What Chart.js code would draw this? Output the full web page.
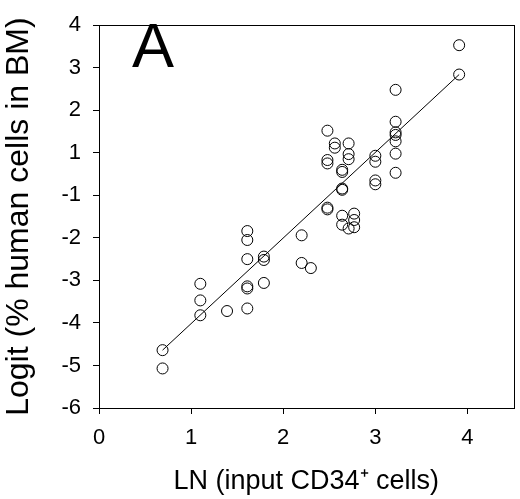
<!DOCTYPE html>
<html>
<head>
<meta charset="utf-8">
<script src="https://cdn.jsdelivr.net/npm/chart.js@4"></script>
<style>
  html, body { margin: 0; padding: 0; background: #fff; }
  #wrap { width: 520px; height: 499px; }
</style>
</head>
<body>
<div id="wrap"><canvas id="logitChart"></canvas></div>
<script>
// LN(input CD34+ cells) for each mouse
const lnCells = [
  0.69, 0.69, 1.10, 1.10, 1.10, 1.39, 1.61, 1.61, 1.61, 1.61, 1.61, 1.61,
  1.79, 1.79, 1.79, 2.20, 2.20, 2.30, 2.48, 2.48, 2.48, 2.48, 2.48, 2.56,
  2.56, 2.64, 2.64, 2.64, 2.64, 2.64, 2.64, 2.71, 2.71, 2.71, 2.77, 2.77,
  2.71, 2.77, 3.00, 3.00, 3.00, 3.00, 3.22, 3.22, 3.22, 3.22, 3.22, 3.22,
  3.22, 3.91, 3.91
];
// logit values in axis units (the axis has no 0 label, see yTickLabels)
const logitValues = [
  -4.64, -5.07, -3.08, -3.47, -3.82, -3.72, -1.84, -2.05, -2.50, -3.14, -3.19, -3.66,
  -2.44, -2.52, -3.06, -1.94, -2.59, -2.71, 0.52, -0.17, -0.25, -1.29, -1.33, 0.22,
  0.12, -0.40, -0.45, -0.84, -0.87, -1.48, -1.69, 0.22, -0.03, -0.15, -1.43, -1.58,
  -1.78, -1.75, -0.07, -0.21, -0.65, -0.74, 1.48, 0.73, 0.48, 0.42, 0.27, -0.02,
  -0.47, 2.53, 1.84
];
// fitted line endpoints
const fitX = [0.69, 3.91];
const fitY = [-4.64, 1.84];

const xTickValues = [0, 1, 2, 3, 4];
const yTickValues = [-6, -5, -4, -3, -2, -1, 0, 1, 2, 3];
const yTickLabels = ['-6', '-5', '-4', '-3', '-2', '-1', '1', '2', '3', '4'];

const FONT = '"Liberation Sans", Arial, Helvetica, sans-serif';

const scatterPts = lnCells.map((x, i) => ({ x: x, y: logitValues[i] }));
const fitPts = fitX.map((x, i) => ({ x: x, y: fitY[i] }));

const framePlugin = {
  id: 'frame',
  afterDraw(chart) {
    const a = chart.chartArea;
    const c = chart.ctx;
    c.save();
    c.strokeStyle = '#000';
    c.lineWidth = 1;
    c.strokeRect(Math.round(a.left) + 0.5, Math.round(a.top) + 0.5,
      Math.round(a.right - a.left), Math.round(a.bottom - a.top));
    c.fillStyle = '#000';
    c.font = '63px ' + FONT;
    c.textAlign = 'center';
    c.textBaseline = 'middle';
    c.fillText('A', a.left + 54, a.top + 24);
    c.restore();
  }
};

new Chart(document.getElementById('logitChart'), {
  type: 'scatter',
  data: {
    datasets: [
      {
        data: scatterPts,
        pointRadius: 5.5,
        pointHoverRadius: 5.5,
        borderColor: '#000',
        backgroundColor: 'rgba(0,0,0,0)',
        borderWidth: 1
      },
      {
        type: 'line',
        data: fitPts,
        borderColor: '#000',
        borderWidth: 1,
        pointRadius: 0,
        fill: false
      }
    ]
  },
  options: {
    responsive: true,
    maintainAspectRatio: false,
    animation: false,
    layout: { padding: { top: 8, right: 4, left: 0, bottom: 0 } },
    plugins: { legend: { display: false }, tooltip: { enabled: false } },
    scales: {
      x: {
        type: 'linear',
        min: 0,
        max: 4.5,
        afterBuildTicks: s => { s.ticks = xTickValues.map(v => ({ value: v })); },
        afterFit: s => { s.height = 91; },
        grid: { drawOnChartArea: false, drawTicks: true, tickLength: 6, color: '#000' },
        border: { display: false },
        ticks: { color: '#000', padding: 11, font: { family: FONT, size: 22 } },
        title: {
          display: true,
          text: 'LN (input CD34⁺ cells)',
          color: '#000',
          font: { family: FONT, size: 27 },
          padding: { top: 0, bottom: 1 }
        }
      },
      y: {
        type: 'linear',
        min: -6,
        max: 3,
        afterBuildTicks: s => { s.ticks = yTickValues.map(v => ({ value: v })); },
        afterFit: s => { s.width = 99; },
        grid: { drawOnChartArea: false, drawTicks: true, tickLength: 6, color: '#000' },
        border: { display: false },
        ticks: {
          color: '#000',
          padding: 12,
          font: { family: FONT, size: 22 },
          callback: v => yTickLabels[yTickValues.indexOf(v)]
        },
        title: {
          display: true,
          text: 'Logit (% human cells in BM)',
          color: '#000',
          font: { family: FONT, size: 32 },
          padding: { top: 0, bottom: 0 }
        }
      }
    }
  },
  plugins: [framePlugin]
});
</script>
</body>
</html>
